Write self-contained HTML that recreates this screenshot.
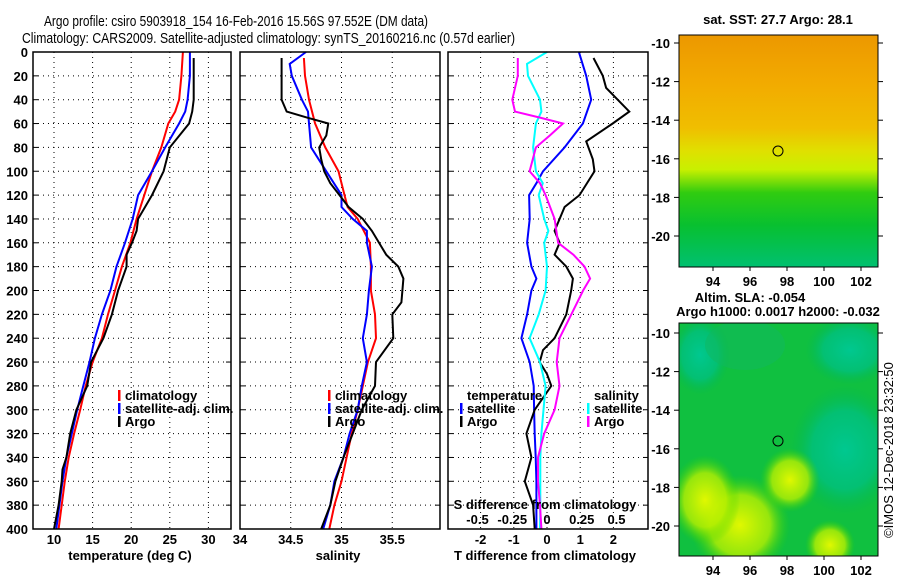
<!DOCTYPE html>
<html><head><meta charset="utf-8">
<style>
html,body{margin:0;padding:0;background:#fff;}
svg{display:block;font-family:"Liberation Sans",sans-serif;}
.t{font-size:13px;font-weight:bold;fill:#000;}
</style></head>
<body>
<svg id="fig" width="900" height="580" viewBox="0 0 900 580" xmlns="http://www.w3.org/2000/svg">
<defs>
<linearGradient id="sstGrad" x1="0" y1="0" x2="0" y2="1">
<stop offset="0" stop-color="#ec9800"/><stop offset="0.2" stop-color="#f2aa00"/><stop offset="0.4" stop-color="#f0be00"/><stop offset="0.5" stop-color="#e0e000"/><stop offset="0.58" stop-color="#c8f000"/><stop offset="0.68" stop-color="#30cc10"/><stop offset="0.82" stop-color="#08c030"/><stop offset="1" stop-color="#00c070"/>
</linearGradient>
<radialGradient id="yb1" cx="0.5" cy="0.5" r="0.5"><stop offset="0" stop-color="#e0f800"/><stop offset="0.6" stop-color="#b8f000" stop-opacity="0.8"/><stop offset="1" stop-color="#30d000" stop-opacity="0"/></radialGradient>
<radialGradient id="tb1" cx="0.5" cy="0.5" r="0.5"><stop offset="0" stop-color="#00c890"/><stop offset="0.6" stop-color="#00c080" stop-opacity="0.8"/><stop offset="1" stop-color="#00b850" stop-opacity="0"/></radialGradient>
<clipPath id="m2clip"><rect x="679" y="323" width="199" height="233"/></clipPath>
</defs>
<rect x="0" y="0" width="900" height="580" fill="#fff"/>
<text x="44" y="26" font-size="15" textLength="384" lengthAdjust="spacingAndGlyphs">Argo profile: csiro 5903918_154 16-Feb-2016 15.56S 97.552E (DM data)</text>
<text x="22" y="43" font-size="15" textLength="493" lengthAdjust="spacingAndGlyphs">Climatology: CARS2009. Satellite-adjusted climatology: synTS_20160216.nc (0.57d earlier)</text>
<g id="plots"></g>
<g id="maps">
<text class="t" x="778" y="24" text-anchor="middle">sat. SST: 27.7 Argo: 28.1</text>
<rect x="679" y="35" width="199" height="232" fill="url(#sstGrad)" stroke="#000" stroke-width="1"/>
<circle cx="778" cy="151" r="5" fill="none" stroke="#000"/>
<text class="t" x="750" y="302" text-anchor="middle">Altim. SLA: -0.054</text>
<text class="t" x="778" y="316" text-anchor="middle">Argo h1000: 0.0017 h2000: -0.032</text>
<rect x="679" y="323" width="199" height="233" fill="#10c040"/>
<g clip-path="url(#m2clip)">
<ellipse cx="700" cy="355" rx="30" ry="40" fill="url(#tb1)"/>
<ellipse cx="745" cy="345" rx="40" ry="25" fill="#10b860" opacity="0.5"/>
<ellipse cx="845" cy="450" rx="55" ry="65" fill="url(#tb1)"/>
<ellipse cx="850" cy="350" rx="45" ry="35" fill="url(#tb1)"/>
<ellipse cx="740" cy="525" rx="50" ry="50" fill="url(#yb1)"/>
<ellipse cx="705" cy="500" rx="35" ry="45" fill="url(#yb1)"/>
<ellipse cx="790" cy="480" rx="30" ry="32" fill="url(#yb1)"/>
<ellipse cx="830" cy="545" rx="25" ry="25" fill="url(#yb1)"/>
</g>
<rect x="679" y="323" width="199" height="233" fill="none" stroke="#000"/>
<circle cx="778" cy="441" r="5" fill="none" stroke="#000"/>
<text x="893" y="450" font-size="13" transform="rotate(-90 893 450)" text-anchor="middle">©IMOS 12-Dec-2018 23:32:50</text>
</g>
</svg>
<script>
// ---- data (depth levels in m, values) ----
const climDepth = [0,20,40,50,60,80,100,120,140,160,180,200,220,240,260,280,300,320,340,360,380,400];
const climTemp  = [26.7,26.5,26.2,25.7,24.8,23.9,22.7,21.7,20.7,19.9,18.8,17.9,17.0,16.2,15.0,14.1,13.4,12.6,11.9,11.4,11.0,10.6];
const satTemp   = [27.6,27.6,27.3,27.0,26.2,24.4,22.7,20.9,20.2,19.2,18.1,17.3,16.2,15.3,14.6,13.8,13.0,12.3,11.6,11.1,10.7,10.3];
const argoTDepth = [5,20,40,50,60,80,100,120,140,150,160,170,180,200,220,240,260,280,300,320,340,350,360,380,400];
const argoTemp   = [28.1,28.1,28.1,27.9,27.5,25.0,24.2,22.7,20.9,20.7,20.1,19.4,19.4,18.3,17.5,16.4,14.8,14.3,12.9,12.1,11.6,11.1,11.0,10.6,10.0];
const climSDepth = [5,20,40,60,80,100,120,130,140,160,180,200,220,240,260,280,300,320,340,360,380,400];
const climSal    = [34.63,34.64,34.68,34.74,34.84,34.97,35.03,35.06,35.16,35.28,35.29,35.29,35.33,35.34,35.26,35.21,35.16,35.10,35.05,35.00,34.93,34.88];
const satSDepth  = [0,10,20,40,50,60,80,100,120,130,140,150,160,180,200,220,240,260,280,300,320,340,360,380,400];
const satSal     = [34.65,34.49,34.51,34.61,34.67,34.68,34.70,34.85,35.00,35.00,35.11,35.25,35.25,35.30,35.27,35.25,35.21,35.25,35.20,35.16,35.08,35.02,34.93,34.89,34.82];
const argoSDepth = [5,20,40,50,55,60,70,80,90,100,110,120,130,140,150,170,180,190,200,210,220,240,260,280,300,320,340,360,380,400];
const argoSal    = [34.41,34.41,34.41,34.46,34.66,34.87,34.85,34.78,34.80,34.83,34.89,34.98,35.07,35.21,35.30,35.44,35.56,35.61,35.60,35.59,35.50,35.51,35.34,35.33,35.20,35.11,35.02,34.94,34.89,34.80];
const dTSatDepth = [0,20,40,60,80,100,110,120,140,160,180,190,200,220,240,260,280,300,320,340,360,380,400];
const dTSat      = [0.96,1.18,1.33,1.08,0.53,-0.12,-0.32,-0.54,-0.52,-0.60,-0.47,-0.32,-0.47,-0.60,-0.77,-0.52,-0.40,-0.39,-0.37,-0.34,-0.32,-0.32,-0.32];
const dTArgoDepth = [5,20,30,50,60,75,90,100,120,130,150,160,170,180,190,200,220,240,250,260,270,280,300,320,340,360,380,400];
const dTArgo      = [1.40,1.68,1.78,2.48,1.98,1.18,1.38,1.43,0.98,0.53,0.23,0.38,0.23,0.58,0.78,0.73,0.58,0.23,-0.12,-0.22,0.0,0.13,-0.37,-0.62,-0.47,-0.67,-0.42,-0.37];
const dSSatDepth = [0,10,20,40,50,60,80,100,110,120,140,150,160,180,200,220,240,260,280,300,320,340,360,380,400];
const dSSat      = [0.0,-0.144,-0.137,-0.05,-0.04,-0.08,-0.10,-0.08,-0.03,-0.06,-0.02,0.01,-0.02,0.0,-0.01,-0.06,-0.125,-0.05,-0.01,-0.025,-0.04,-0.048,-0.048,-0.048,-0.05];
const dSArgoDepth = [5,20,40,50,55,60,70,80,100,110,120,140,160,170,180,190,200,220,240,260,280,300,320,340,360,380,400];
const dSArgo      = [-0.21,-0.21,-0.25,-0.23,-0.05,0.115,0.02,-0.08,-0.125,-0.05,-0.01,0.055,0.08,0.19,0.27,0.31,0.26,0.175,0.09,0.07,0.09,0.055,-0.02,-0.065,-0.065,-0.05,-0.04];
const depthTicks = [0,20,40,60,80,100,120,140,160,180,200,220,240,260,280,300,320,340,360,380,400];
const tempTicks = [10,15,20,25,30];
const salTicks = [34,34.5,35,35.5];
const salTickLabels = ["34","34.5","35","35.5"];
const dTTicks = [-2,-1,0,1,2];
const dSTicks = [-0.5,-0.25,0,0.25,0.5];
const dSTickLabels = ["-0.5","-0.25","0","0.25","0.5"];
const mapLonTicks = [94,96,98,100,102];
const mapLatTicks = [-10,-12,-14,-16,-18,-20];

// ---- axes ----
const Y0 = 52, Y1 = 529;
const yD = d => Y0 + d * (Y1 - Y0) / 400;
const xT = v => 54 + (v - 10) * 7.72;
const xS = v => 240 + (v - 34) * 101.5;
const xDT = v => 547 + v * 33.2;
const xDS = v => 547 + v * 139;
const lonX = v => 713 + (v - 94) * 18.5;
const latY1 = v => 43 + (-10 - v) * 19.3;
const latY2 = v => 333 + (-10 - v) * 19.3;

const NS = "http://www.w3.org/2000/svg";
const root = document.getElementById('plots');
function mk(tag, attrs, parent) {
  const e = document.createElementNS(NS, tag);
  for (const k in attrs) e.setAttribute(k, attrs[k]);
  (parent || root).appendChild(e);
  return e;
}
function txt(x, y, s, anchor, parent) {
  const e = mk('text', {x: x, y: y, 'text-anchor': anchor || 'middle', class: 't'}, parent);
  e.textContent = s;
  return e;
}
function panel(name) {
  const g = mk('g', {});
  
  
  return g;
}
function grid(g, x0, x1, xs) {
  depthTicks.forEach(d => {
    if (d > 0 && d < 400) {
      const l = mk('line', {x1: x0, x2: x1, y1: yD(d), y2: yD(d), stroke: '#000', 'stroke-width': 1, 'stroke-dasharray': '1,4'}, g);
      
      
    }
    mk('line', {x1: x0, x2: x0 + 5, y1: yD(d), y2: yD(d), stroke: '#000'}, g);
    mk('line', {x1: x1 - 5, x2: x1, y1: yD(d), y2: yD(d), stroke: '#000'}, g);
  });
  xs.forEach(x => {
    if (x > x0 + 1 && x < x1 - 1) {
      const l = mk('line', {x1: x, x2: x, y1: Y0, y2: Y1, stroke: '#000', 'stroke-dasharray': '1,4'}, g);
      
      
    }
  });
}
function box(g, x0, x1) {
  const r = mk('rect', {x: x0, y: Y0, width: x1 - x0, height: Y1 - Y0, fill: 'none', stroke: '#000', 'stroke-width': 1.5}, g);
  
  
}
function line(g, depths, vals, xf, color, name) {
  const pts = depths.map((d, i) => xf(vals[i]).toFixed(1) + ',' + yD(d).toFixed(1)).join(' ');
  const p = mk('polyline', {points: pts, fill: 'none', stroke: color, 'stroke-width': 2}, g);
  
  
}
function legend(g, x, y, color, label) {
  const e = mk('g', {}, g);
  
  
  mk('rect', {x: x, y: y - 10, width: 2.5, height: 11, fill: color}, e);
  txt(x + 7, y, label, 'start', e);
}

// depth labels
const yl = mk('g', {});


depthTicks.forEach(d => txt(28, yD(d) + 5, String(d), 'end', yl));

// panel 1: temperature
const g1 = panel('temperature-panel');
grid(g1, 33, 231, tempTicks.map(xT));
line(g1, climDepth, climTemp, xT, '#ff0000', 'climatology-temperature-line');
line(g1, climDepth, satTemp, xT, '#0000ff', 'satellite-temperature-line');
line(g1, argoTDepth, argoTemp, xT, '#000000', 'argo-temperature-line');
box(g1, 33, 231);
tempTicks.forEach(v => txt(xT(v), 544, String(v), 'middle', g1));
txt(130, 560, 'temperature (deg C)', 'middle', g1);
legend(g1, 118, 400, '#ff0000', 'climatology');
legend(g1, 118, 413, '#0000ff', 'satellite-adj. clim.');
legend(g1, 118, 426, '#000000', 'Argo');

// panel 2: salinity
const g2 = panel('salinity-panel');
grid(g2, 240, 440, salTicks.map(xS));
line(g2, climSDepth, climSal, xS, '#ff0000', 'climatology-salinity-line');
line(g2, satSDepth, satSal, xS, '#0000ff', 'satellite-salinity-line');
line(g2, argoSDepth, argoSal, xS, '#000000', 'argo-salinity-line');
box(g2, 240, 440);
salTicks.forEach((v, i) => txt(xS(v), 544, salTickLabels[i], 'middle', g2));
txt(338, 560, 'salinity', 'middle', g2);
legend(g2, 328, 400, '#ff0000', 'climatology');
legend(g2, 328, 413, '#0000ff', 'satellite-adj. clim.');
legend(g2, 328, 426, '#000000', 'Argo');

// panel 3: differences
const g3 = panel('difference-panel');
grid(g3, 448, 648, dTTicks.map(xDT));
line(g3, dTSatDepth, dTSat, xDT, '#0000ff', 'temperature-satellite-diff-line');
line(g3, dTArgoDepth, dTArgo, xDT, '#000000', 'temperature-argo-diff-line');
line(g3, dSSatDepth, dSSat, xDS, '#00ffff', 'salinity-satellite-diff-line');
line(g3, dSArgoDepth, dSArgo, xDS, '#ff00ff', 'salinity-argo-diff-line');
box(g3, 448, 648);
dTTicks.forEach(v => txt(xDT(v), 544, String(v), 'middle', g3));
dSTicks.forEach((v, i) => txt(xDS(v), 524, dSTickLabels[i], 'middle', g3));
txt(545, 509, 'S difference from climatology', 'middle', g3);
txt(545, 560, 'T difference from climatology', 'middle', g3);
txt(467, 400, 'temperature', 'start', g3);
legend(g3, 460, 413, '#0000ff', 'satellite');
legend(g3, 460, 426, '#000000', 'Argo');
txt(594, 400, 'salinity', 'start', g3);
legend(g3, 587, 413, '#00ffff', 'satellite');
legend(g3, 587, 426, '#ff00ff', 'Argo');

// map axes
const ma = mk('g', {}, document.getElementById('maps'));


[[latY1, 267], [latY2, 556]].forEach(([ly, by]) => {
  mapLatTicks.forEach(v => {
    mk('line', {x1: 674, x2: 679, y1: ly(v), y2: ly(v), stroke: '#000'}, ma);
    mk('line', {x1: 878, x2: 883, y1: ly(v), y2: ly(v), stroke: '#000'}, ma);
    txt(670, ly(v) + 5, String(v), 'end', ma);
  });
  mapLonTicks.forEach(v => {
    mk('line', {x1: lonX(v), x2: lonX(v), y1: by, y2: by + 4, stroke: '#000'}, ma);
    txt(lonX(v), by + 19, String(v), 'middle', ma);
  });
});
</script>
</body></html>
